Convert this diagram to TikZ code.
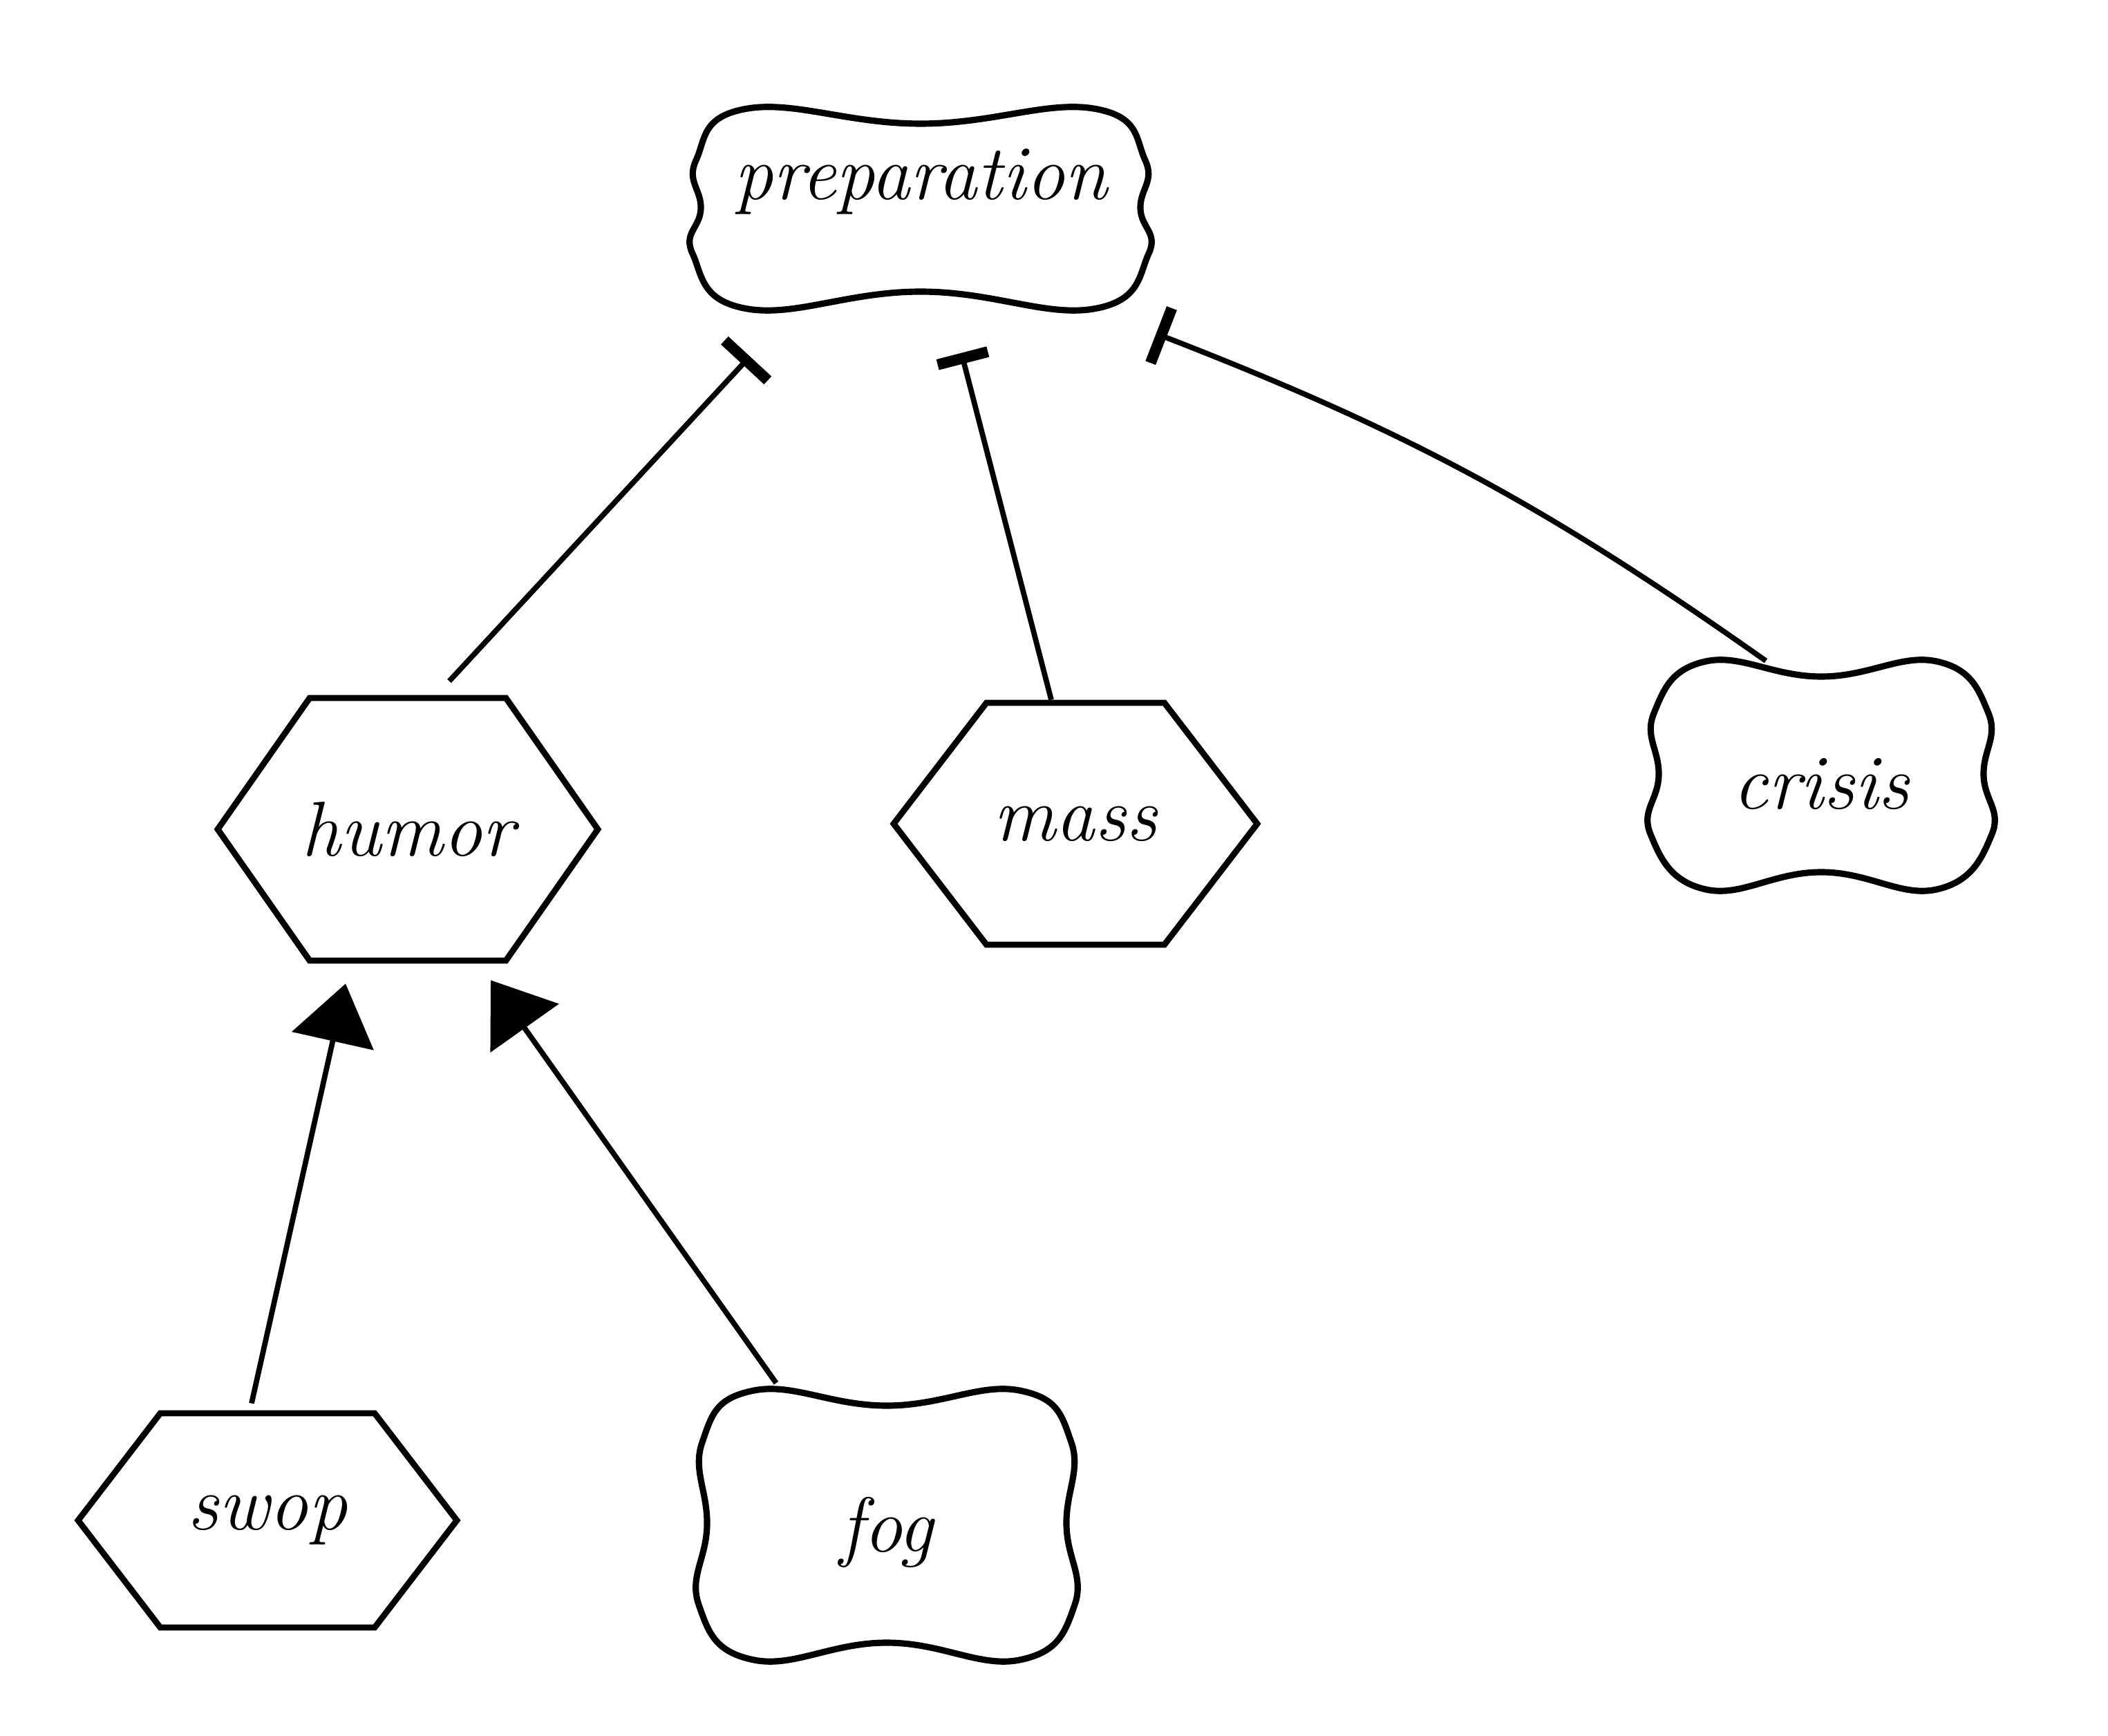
\documentclass[tikz,border=0pt]{standalone}
\usepackage{tikz}
\usetikzlibrary{arrows.meta, shapes.symbols, calc}

\begin{document}
\begin{tikzpicture}[
    hexa/.style={draw, line width=2.5pt, signal, signal to=west and east, signal pointer angle=105, inner ysep=0pt, inner xsep=-0.1cm, font=\fontsize{32}{38}\selectfont\itshape},
    bonebox/.style={inner sep=0pt, font=\fontsize{32}{38}\selectfont\itshape},
    outline/.style={line width=2.6pt},
    link/.style={line width=2.2pt}
  ]
        % Fix the page size
        \useasboundingbox (0,0) rectangle (30.5,-25.12);

        % Wavy boxes (text only, outline drawn below)
        \node[bonebox, minimum width=6.6cm, minimum height=2.2cm] (prep) at (13.32,-2.63) {preparation};
        \node[bonebox, minimum width=4.95cm, minimum height=2.8cm] (crisis) at (26.35,-11.35) {crisis};
        \node[bonebox, minimum width=5.45cm, minimum height=3.4cm] (fog) at (12.83,-22.17) {fog};

        % Hexagons
        \node[hexa, minimum width=5.5cm, minimum height=3.8cm, signal pointer angle=110, inner xsep=-0.15cm] (humor) at (5.9,-12.0) {humor};
        \node[hexa, minimum width=5.26cm, minimum height=3.5cm] (mass) at (15.56,-11.92) {mass};
        \node[hexa, minimum width=5.48cm, minimum height=3.1cm] (swop) at (3.87,-22.0) {swop};

        % Outlines of the wavy boxes
        \foreach \n/\w/\h/\dy in {prep/3.3/1.45/-0.39, crisis/2.47/1.65/0.13, fog/2.72/1.95/0.1} {
          \begin{scope}[shift={($(\n)+(0,\dy)$)}]
            \draw[outline] plot[smooth cycle, tension=0.75] coordinates {
              (-\w+0.8,\h) (0,\h-0.22) (\w-0.8,\h) (\w-0.05,\h-0.75) (\w-0.12,0) (\w,-\h+0.8)
              (\w-0.8,-\h) (0,-\h+0.25) (-\w+0.8,-\h) (-\w,-\h+0.8) (-\w+0.12,0) (-\w+0.05,\h-0.75)};
          \end{scope}
        }

        % Links up to preparation
        \draw[link, -{Bar[width=0.85cm, line width=4.5pt]}] ([xshift=0.6cm, yshift=0.2cm]humor.north) -- ([xshift=-2.47cm, yshift=-1.42cm]prep.south);
        \draw[link, -{Bar[width=0.75cm, line width=4.5pt]}] ([xshift=-0.35cm]mass.north) -- ([xshift=0.59cm, yshift=-1.37cm]prep.south);
        \draw[link, -{Bar[width=0.85cm, line width=4.5pt]}] ([xshift=-0.8cm, yshift=0.38cm]crisis.north) to[bend right=7] ([xshift=0.1cm, yshift=-1.09cm]prep.south east);

        % Arrows up to humor
        \draw[link, -{Triangle[length=0.85cm, width=1.2cm]}] ([xshift=-0.23cm, yshift=0.1cm]swop.north) -- ([xshift=-0.9cm, yshift=-0.29cm]humor.south);
        \draw[link, -{Triangle[length=0.85cm, width=1.2cm]}] ([xshift=-1.6cm, yshift=0.45cm]fog.north) -- ([xshift=1.2cm, yshift=-0.24cm]humor.south);
\end{tikzpicture}
\end{document}
